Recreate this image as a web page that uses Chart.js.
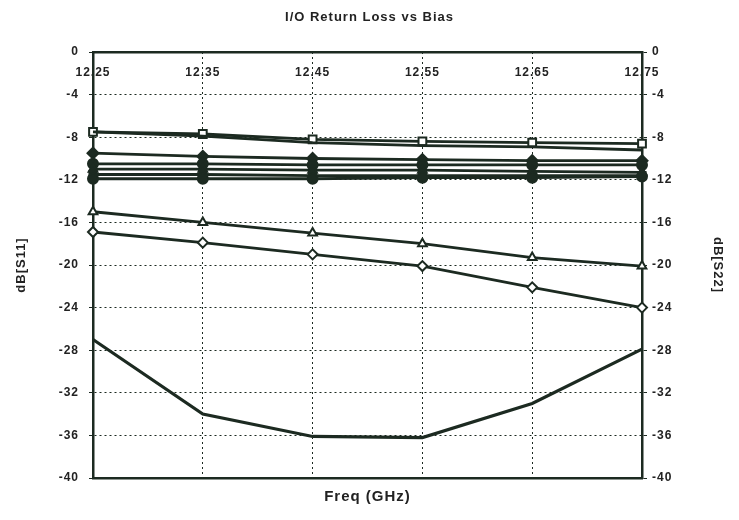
<!DOCTYPE html>
<html>
<head>
<meta charset="utf-8">
<script src="https://cdn.jsdelivr.net/npm/chart.js@4"></script>
<style>
html,body{margin:0;padding:0;background:#ffffff;}
#wrap{width:739px;height:520px;}
</style>
</head>
<body>
<div id="wrap"><canvas id="c" width="739" height="520"></canvas></div>
<script>
const freqLabels = ['12.25','12.35','12.45','12.55','12.65','12.75'];
const yTickValues = [0,-4,-8,-12,-16,-20,-24,-28,-32,-36,-40];
const squareSeries = [-7.5, -7.7, -8.2, -8.4, -8.5, -8.6];
const plainSeries = [-7.5, -7.9, -8.5, -8.8, -8.9, -9.2];
const clusterA = [-9.5, -9.8, -10.0, -10.1, -10.2, -10.2];
const clusterB = [-10.5, -10.5, -10.6, -10.6, -10.6, -10.6];
const clusterC = [-11.0, -11.0, -11.1, -11.1, -11.2, -11.3];
const clusterD = [-11.5, -11.5, -11.6, -11.6, -11.6, -11.6];
const clusterE = [-11.9, -11.9, -11.9, -11.8, -11.8, -11.7];
const triangleSeries = [-15.0, -16.0, -17.0, -18.0, -19.3, -20.1];
const diamondSeries = [-16.9, -17.9, -19.0, -20.1, -22.1, -24.0];
const bottomSeries = [-27.0, -34.0, -36.1, -36.2, -33.0, -27.9];

const INK = '#1c2a21';
const TXT = '#222222';
const FONT = '"Liberation Sans", Arial, sans-serif';

function ds(data, style, radius, fill, width) {
  return {
    data: data,
    borderColor: INK,
    borderWidth: width || 2.8,
    pointStyle: style || 'circle',
    pointRadius: radius,
    pointHoverRadius: radius,
    pointBackgroundColor: fill,
    pointBorderColor: INK,
    pointBorderWidth: 2,
    tension: 0,
    fill: false,
    clip: false,
    yAxisID: 'y'
  };
}

const datasets = [
  ds(plainSeries, 'circle', 0, INK),
  ds(squareSeries, 'rect', 5.5, '#ffffff'),
  ds(clusterE, 'circle', 5, INK),
  ds(clusterD, 'rect', 5, INK),
  ds(clusterC, 'triangle', 5, INK),
  ds(clusterB, 'circle', 5, INK),
  ds(clusterA, 'rectRot', 5.5, INK),
  ds(triangleSeries, 'triangle', 5, '#ffffff'),
  ds(diamondSeries, 'rectRot', 5, '#ffffff'),
  ds(bottomSeries, 'circle', 0, INK, 3.2)
];

const dottedGrid = {
  color: INK,
  lineWidth: 1,
  tickBorderDash: [],
  tickColor: INK
};

const spacing = {
  id: 'spacing',
  beforeDraw(chart) { chart.ctx.letterSpacing = '1px'; }
};

new Chart(document.getElementById('c'), {
  type: 'line',
  data: { labels: freqLabels, datasets: datasets },
  plugins: [spacing],
  options: {
    responsive: false,
    animation: false,
    events: [],
    layout: { padding: 0 },
    plugins: {
      legend: { display: false },
      tooltip: { enabled: false },
      title: {
        display: true,
        text: 'I/O Return Loss vs Bias',
        color: TXT,
        font: { family: FONT, size: 13, weight: 'bold' },
        padding: { top: 10, bottom: 26.4 }
      }
    },
    scales: {
      xTop: {
        type: 'category',
        position: 'top',
        labels: freqLabels,
        offset: false,
        grid: { display: false, drawTicks: false },
        border: { display: true, color: INK, width: 2.5 },
        ticks: {
          color: TXT,
          font: { family: FONT, size: 12, weight: 'bold' },
          mirror: true,
          padding: 13.5,
          autoSkip: false,
          maxRotation: 0,
          minRotation: 0
        },
        afterFit: s => { s.height = 0; }
      },
      x: {
        type: 'category',
        position: 'bottom',
        offset: false,
        grid: Object.assign({}, dottedGrid, { drawTicks: false }),
        border: { display: true, color: INK, width: 2.5, dash: [2, 3] },
        ticks: { display: false },
        title: {
          display: true,
          text: 'Freq (GHz)',
          color: TXT,
          font: { family: FONT, size: 15, weight: 'bold' },
          padding: { top: 0, bottom: 14 }
        },
        afterFit: s => { s.height = 42; }
      },
      y: {
        type: 'linear',
        position: 'left',
        min: -40,
        max: 0,
        afterBuildTicks: s => { s.ticks = yTickValues.map(v => ({ value: v })); },
        grid: Object.assign({}, dottedGrid, { drawTicks: true, tickLength: 4 }),
        border: { display: true, color: INK, width: 2.5, dash: [2, 3] },
        ticks: {
          color: TXT,
          font: { family: FONT, size: 12, weight: 'bold' },
          padding: 10
        },
        title: {
          display: true,
          text: 'dB[S11]',
          color: TXT,
          font: { family: FONT, size: 13, weight: 'bold' },
          padding: { top: 13.2, bottom: 0 }
        },
        afterFit: s => { s.width = 93; }
      },
      y2: {
        type: 'linear',
        position: 'right',
        min: -40,
        max: 0,
        afterBuildTicks: s => { s.ticks = yTickValues.map(v => ({ value: v })); },
        grid: { display: true, color: 'rgba(0,0,0,0)', drawOnChartArea: false, drawTicks: true, tickLength: 5, tickColor: INK },
        border: { display: true, color: INK, width: 2.5 },
        ticks: {
          color: TXT,
          font: { family: FONT, size: 12, weight: 'bold' },
          padding: 5
        },
        title: {
          display: true,
          text: 'dB[S22]',
          color: TXT,
          font: { family: FONT, size: 13, weight: 'bold' },
          padding: { top: 13.2, bottom: 0 }
        },
        afterFit: s => { s.width = 97; }
      }
    }
  }
});
</script>
</body>
</html>
